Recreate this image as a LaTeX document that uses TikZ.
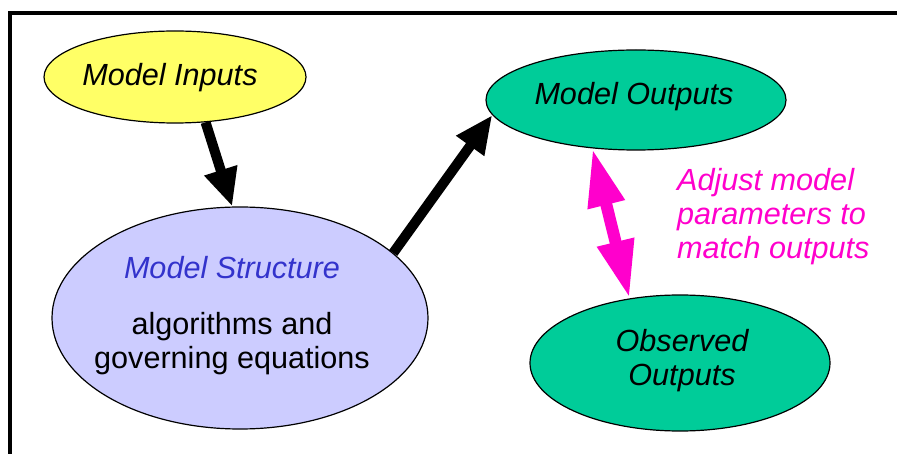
\documentclass[tikz,border=0pt]{standalone}
\usepackage{fontspec}
\setmainfont{Liberation Sans}
\usetikzlibrary{shapes.geometric,arrows.meta}
\definecolor{inyellow}{HTML}{FFFF66}
\definecolor{outgreen}{HTML}{00CC99}
\definecolor{structlav}{HTML}{CCCCFF}
\definecolor{structblue}{HTML}{3333CC}
\definecolor{adjmag}{HTML}{FF00CC}
\tikzset{
  oval/.style={ellipse, draw=black, line width=1.2pt, inner sep=0pt},
  lbl/.style={font=\fontsize{30.6}{34}\selectfont, inner sep=0pt, align=center},
  lbli/.style={lbl, font=\fontsize{30.6}{34}\selectfont\itshape},
  blockarrow/.style={line width=10pt, -{Triangle[length=38pt,width=32pt]}},
  dblarrow/.style={line width=12pt, adjmag, {Triangle[length=58pt,width=35pt]}-{Triangle[length=58pt,width=35pt]}},
}
\begin{document}
\begin{tikzpicture}[x=1pt,y=-1pt]
\useasboundingbox (0,0) rectangle (897,454);
\fill[white] (0,0) rectangle (897,454);
\draw[line width=4pt] (10,454) -- (10,13.5) -- (897,13.5);

\node[oval, fill=inyellow, minimum width=262pt, minimum height=92pt] (mi) at (175,77) {};
\node[oval, fill=outgreen, minimum width=300pt, minimum height=100pt] (mo) at (636,100) {};
\node[oval, fill=structlav, minimum width=376pt, minimum height=222pt] (ms) at (240,318) {};
\node[oval, fill=outgreen, minimum width=300pt, minimum height=136pt] (oo) at (680,363) {};

\node[lbli] (mit) at (170,78) {Model Inputs};
\node[lbli] (mot) at (634,97) {Model Outputs};
\node[lbli, text=structblue] (mst) at (232,268) {Model Structure};
\node[lbl] (msb) at (232,344) {algorithms and\\governing equations};
\node[lbli] (oot) at (682,361) {Observed\\Outputs};
\node[lbli, text=adjmag, align=left, anchor=west] (adj) at (677,217) {Adjust model\\parameters to\\match outputs};

\draw[blockarrow] (mi.-56) -- (ms.94);
\draw[blockarrow] (ms.23.7) -- (mo.186);
\draw[dblarrow] (mo.228) -- (oo.128);
\end{tikzpicture}
\end{document}
